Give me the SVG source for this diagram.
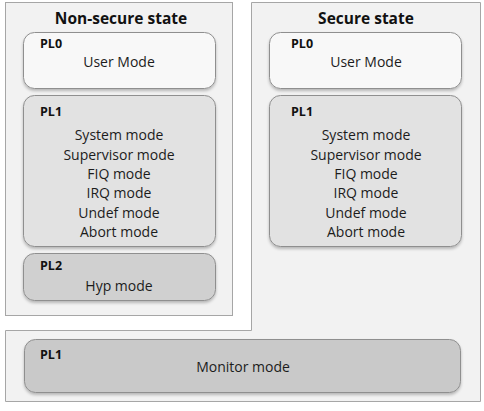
<svg xmlns="http://www.w3.org/2000/svg" width="484" height="411" viewBox="0 0 484 411">
  <style>
    .state { fill: #f2f2f2; stroke: #a6a6a6; stroke-width: 1; }
    .mode { stroke: #8f8f8f; stroke-width: 1; filter: url(#shadow); }
    .pl0 { fill: #f8f8f8; }
    .pl1 { fill: #e2e2e2; }
    .pl2 { fill: #d0d0d0; }
    .mon { fill: #c9c9c9; }
    .title { font-family: "Open Sans", "Liberation Sans", sans-serif; font-weight: bold; font-size: 15.5px; fill: #111; text-anchor: middle; }
    .pl { font-family: "Open Sans", "Liberation Sans", sans-serif; font-weight: bold; font-size: 12.5px; fill: #111; }
    .txt { font-family: "Open Sans", "Liberation Sans", sans-serif; font-size: 14px; fill: #1c1c1c; text-anchor: middle; }
  </style>
  <defs>
    <filter id="shadow" x="-5%" y="-10%" width="110%" height="130%">
      <feGaussianBlur in="SourceAlpha" stdDeviation="1.5"/>
      <feOffset dx="0" dy="2" result="b"/>
      <feComponentTransfer><feFuncA type="linear" slope="0.25"/></feComponentTransfer>
      <feMerge><feMergeNode/><feMergeNode in="SourceGraphic"/></feMerge>
    </filter>
  </defs>

  <rect width="484" height="411" fill="#ffffff"/>

  <!-- Secure state: L-shaped region that also wraps the monitor band -->
  <g id="secure-state">
    <polygon class="state" points="251.5,2.5 480.5,2.5 480.5,401.5 5.5,401.5 5.5,330.5 251.5,330.5"/>
    <text class="title" x="366" y="24">Secure state</text>
  </g>

  <!-- Non-secure state -->
  <g id="nonsecure-state">
    <rect class="state" x="5.5" y="2.5" width="227" height="313"/>
    <text class="title" x="121" y="24">Non-secure state</text>
  </g>

  <g id="ns-pl0">
    <rect class="mode pl0" x="23.5" y="32.5" width="192" height="56" rx="11"/>
    <text class="pl" x="40" y="48">PL0</text>
    <text class="txt" x="119" y="67">User Mode</text>
  </g>

  <g id="ns-pl1">
    <rect class="mode pl1" x="23.5" y="95.5" width="192" height="151" rx="11"/>
    <text class="pl" x="40" y="116">PL1</text>
    <text class="txt" x="119" y="140">System mode</text>
    <text class="txt" x="119" y="159.5">Supervisor mode</text>
    <text class="txt" x="119" y="179">FIQ mode</text>
    <text class="txt" x="119" y="198">IRQ mode</text>
    <text class="txt" x="119" y="217.5">Undef mode</text>
    <text class="txt" x="119" y="237">Abort mode</text>
  </g>

  <g id="ns-pl2">
    <rect class="mode pl2" x="23.5" y="253.5" width="192" height="47" rx="11"/>
    <text class="pl" x="40" y="270">PL2</text>
    <text class="txt" x="119" y="291">Hyp mode</text>
  </g>

  <g id="s-pl0">
    <rect class="mode pl0" x="269.5" y="32.5" width="192" height="56" rx="11"/>
    <text class="pl" x="291" y="48">PL0</text>
    <text class="txt" x="366" y="67">User Mode</text>
  </g>

  <g id="s-pl1">
    <rect class="mode pl1" x="269.5" y="95.5" width="192" height="151" rx="11"/>
    <text class="pl" x="291" y="116">PL1</text>
    <text class="txt" x="366" y="140">System mode</text>
    <text class="txt" x="366" y="159.5">Supervisor mode</text>
    <text class="txt" x="366" y="179">FIQ mode</text>
    <text class="txt" x="366" y="198">IRQ mode</text>
    <text class="txt" x="366" y="217.5">Undef mode</text>
    <text class="txt" x="366" y="237">Abort mode</text>
  </g>

  <g id="monitor">
    <rect class="mode mon" x="24.5" y="339.5" width="436" height="53" rx="11"/>
    <text class="pl" x="40" y="359">PL1</text>
    <text class="txt" x="243" y="372">Monitor mode</text>
  </g>

  <g id="connectors"></g>
</svg>
